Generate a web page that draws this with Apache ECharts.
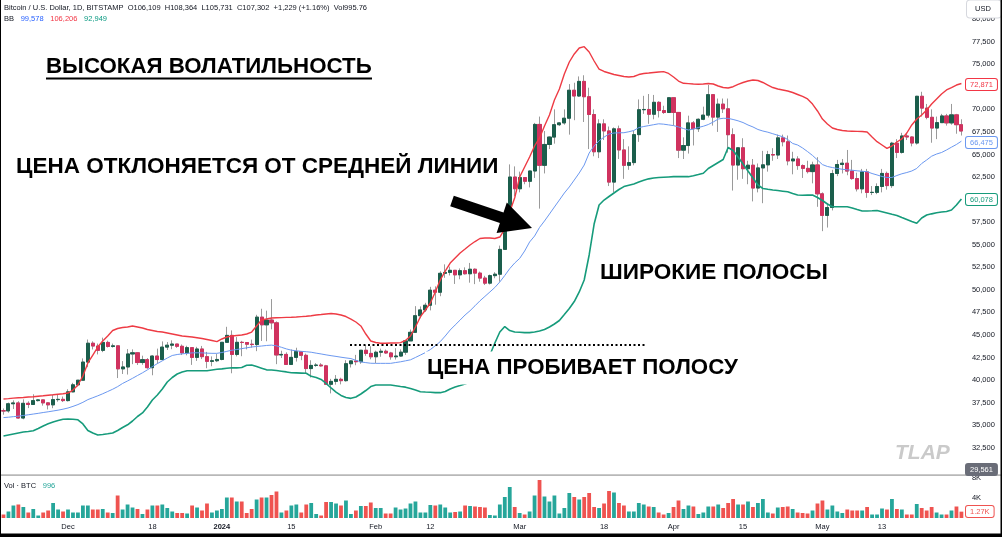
<!DOCTYPE html>
<html lang="ru">
<head>
<meta charset="UTF-8">
<title>BTC Bollinger</title>
<style>
  html, body { margin: 0; padding: 0; background: #fff; }
  #main { width: 1002px; height: 537px; }
</style>
</head>
<body>
<div id="main"></div>
<script src="https://cdn.jsdelivr.net/npm/echarts@6/dist/echarts.min.js"></script>
<script>
// daily candles, 2023-11-18 .. 2024-05-29
const open = [
  36590, 36580, 37370, 37460, 35790, 37420, 37290, 37720, 37800, 37470, 37250, 37830, 37860,
  37720, 38690, 39470, 39980, 41990, 44080, 43770, 43290, 44170, 43720, 43790, 41240, 41450, 42890, 43020, 41940, 42260, 41370, 42660, 42270, 43650, 43860, 43990, 43740, 43010, 43590, 42510, 43440, 42590, 42070, 42140,
  42280, 44180, 44950, 42840, 44180, 44160, 43970, 43930, 46970, 46120, 46650, 46340, 42780, 42840, 41730, 42510, 43150, 42740, 41270, 41620, 41660, 41570, 39530, 39850, 40080, 39930, 41810, 42120, 42030, 43300, 42950,
  42580, 43080, 43190, 43000, 42580, 42660, 43090, 44340, 45290, 47130, 47770, 48290, 49960, 49730, 51830, 51930, 52160, 51660, 52120, 51780, 52280, 51850, 51300, 50740, 51570, 51730, 54480, 57060, 62500,
  61200, 62440, 62030, 63170, 68330, 63800, 66110, 66930, 68300, 68500, 69020, 72120, 71480, 73100, 71400, 69430, 65300, 68390, 67610, 61940, 67840, 65500, 63800, 64100, 67200, 69960, 69990, 69460, 70780, 69870, 69650,
  71290, 69660, 65480, 65990, 68500, 67850, 68900, 69360, 71630, 69140, 70580, 70060, 67190, 63830, 65740, 63420, 63810, 61280, 63510, 63850, 64990, 64940, 66840, 66410, 64290, 64500, 63770, 63460, 63100, 63840,
  60640, 58250, 59120, 62890, 63890, 64030, 63160, 62330, 61190, 63070, 60790, 60800, 61450, 62900, 61550, 66250, 65230, 67050, 66940, 66270, 71450, 70140, 69120, 67930, 68530, 69270, 68500, 69390, 68300
];
const high = [
  36850, 37500, 37750, 37650, 37860, 37640, 38420, 37900, 37820, 37560, 38380, 38420, 38170,
  38980, 39690, 40000, 42400, 44490, 44290, 44040, 44700, 44360, 44040, 43810, 42100, 43430, 43400, 43090, 42700, 42430, 42740, 43480, 44280, 44210, 44400, 44000, 43940, 43800, 43600, 43680, 43780, 43120, 42620, 42880,
  44190, 45900, 45500, 44760, 44340, 44210, 44480, 47230, 47900, 47690, 48970, 46500, 43250, 43070, 43390, 43580, 43200, 42930, 42190, 41870, 41870, 41680, 40130, 40550, 40260, 42200, 42180, 42790, 43310, 43880, 43740,
  43260, 43480, 43380, 43120, 43530, 43400, 44370, 45600, 48190, 48160, 48560, 50330, 50380, 52050, 52820, 52570, 52200, 52370, 52490, 52980, 52370, 52020, 51550, 51690, 51950, 54900, 57550, 63900, 63680,
  63100, 62440, 63200, 68500, 69200, 67600, 67000, 70000, 68600, 70000, 72800, 72950, 73650, 73780, 72400, 70000, 68900, 68900, 68100, 68000, 68200, 66700, 65900, 67600, 71100, 71500, 71700, 71600, 70900, 70400, 71300,
  71300, 69700, 66900, 69300, 68700, 69000, 70300, 72700, 71700, 71200, 71200, 71200, 67900, 65800, 66800, 64300, 64500, 64000, 65400, 65400, 65700, 67200, 67200, 67100, 65300, 64800, 63900, 64300, 64200, 64700,
  60800, 59600, 63300, 64400, 64500, 65500, 64400, 62980, 63400, 63400, 61500, 61800, 63400, 63100, 66400, 66700, 67400, 67400, 67000, 71500, 71950, 70600, 70000, 69200, 69500, 69500, 70600, 69500, 68900
];
const low = [
  36160, 36380, 36790, 35720, 35650, 36890, 37250, 37620, 37160, 36740, 36880, 37600, 37560,
  37620, 38650, 39290, 39980, 41420, 43390, 42840, 43090, 43600, 43590, 40220, 40670, 40610, 41760, 41670, 41690, 41250, 40530, 41800, 42200, 43330, 43420, 43570, 42770, 42740, 41680, 42120, 42320, 41310, 41530, 41990,
  42190, 44170, 40750, 42620, 42640, 43400, 43590, 43200, 44330, 44300, 45620, 41760, 42440, 41710, 41700, 42050, 42200, 40670, 40280, 41470, 41490, 39450, 38520, 39490, 39520, 39820, 41390, 41640, 41800, 42690, 42300,
  41880, 42580, 42890, 42260, 42270, 42570, 42790, 44330, 45260, 46850, 47550, 47720, 48350, 49290, 51330, 51590, 50650, 51170, 51690, 50790, 50630, 50900, 50530, 50590, 51280, 50900, 54450, 56700, 60400,
  60800, 61700, 61350, 62400, 59000, 62900, 65600, 66200, 68150, 68300, 67200, 68800, 71370, 68600, 65600, 64800, 64600, 66600, 61500, 60800, 64500, 62300, 63300, 63800, 66400, 69500, 68400, 68900, 69100, 69500, 69600,
  68200, 64600, 64500, 65100, 66000, 67500, 68800, 69100, 68200, 67500, 69600, 65200, 61000, 62200, 62300, 61700, 59800, 60800, 59600, 63100, 64300, 64500, 65900, 63800, 62800, 63300, 62400, 62900, 61800, 59200,
  56500, 56900, 58800, 62600, 62900, 62700, 62200, 60900, 60700, 60200, 60500, 60600, 60800, 61100, 61300, 64600, 65100, 66600, 65900, 66100, 69200, 68900, 66300, 66700, 68500, 68200, 68300, 67300, 67100
];
const close = [
  36580, 37370, 37460, 35790, 37420, 37290, 37720, 37800, 37470, 37250, 37830, 37860, 37720,
  38690, 39470, 39980, 41990, 44080, 43770, 43290, 44170, 43720, 43790, 41240, 41450, 42890, 43020, 41940, 42260, 41370, 42660, 42270, 43650, 43860, 43990, 43740, 43010, 43590, 42510, 43440, 42590, 42070, 42140, 42280,
  44180, 44950, 42840, 44180, 44160, 43970, 43930, 46970, 46120, 46650, 46340, 42780, 42840, 41730, 42510, 43150, 42740, 41270, 41620, 41660, 41570, 39530, 39850, 40080, 39930, 41810, 42120, 42030, 43300, 42950, 42580,
  43080, 43190, 43000, 42580, 42660, 43090, 44340, 45290, 47130, 47770, 48290, 49960, 49730, 51830, 51930, 52160, 51660, 52120, 51780, 52280, 51850, 51300, 50740, 51570, 51730, 54480, 57060, 62500, 61200,
  62440, 62030, 63170, 68330, 63800, 66110, 66930, 68300, 68500, 69020, 72120, 71480, 73100, 71400, 69430, 65300, 68390, 67610, 61940, 67840, 65500, 63800, 64100, 67200, 69960, 69990, 69460, 70780, 69870, 69650, 71290,
  69660, 65480, 65990, 68500, 67850, 68900, 69360, 71630, 69140, 70580, 70060, 67190, 63830, 65740, 63420, 63810, 61280, 63510, 63850, 64990, 64940, 66840, 66410, 64290, 64500, 63770, 63460, 63100, 63840, 60640,
  58250, 59120, 62890, 63890, 64030, 63160, 62330, 61190, 63070, 60790, 60800, 61450, 62900, 61550, 66250, 65230, 67050, 66940, 66270, 71450, 70140, 69120, 67930, 68530, 69270, 68500, 69390, 68300, 67600
];
// volume, thousands of BTC
const volume = [
  0.7, 1.3, 2.5, 2.7, 2.2, 1.1, 1.8, 0.5, 1.1, 1.5, 3.0, 1.7, 1.3,
  1.7, 1.1, 1.1, 2.5, 2.5, 1.7, 1.7, 1.8, 1.1, 1.0, 4.5, 1.7, 2.7, 2.1, 1.8, 0.8, 1.7, 2.5, 2.5, 2.7, 2.0, 1.3, 1.0, 1.0, 0.9, 2.5, 2.1, 1.5, 2.9, 1.1, 1.5,
  1.8, 4.1, 4.1, 3.3, 3.3, 1.0, 1.8, 3.7, 4.1, 4.1, 4.6, 5.3, 1.1, 1.5, 2.5, 2.7, 1.1, 2.7, 3.0, 0.8, 0.5, 3.2, 3.2, 2.9, 2.5, 3.5, 0.8, 1.5, 2.4, 2.4, 3.1,
  2.0, 2.0, 0.9, 0.9, 2.1, 1.7, 1.9, 2.9, 3.3, 1.1, 1.1, 2.6, 2.5, 2.7, 2.1, 1.1, 1.2, 1.3, 2.5, 2.4, 2.3, 2.2, 2.1, 0.6, 0.5, 2.7, 4.2, 6.2, 2.2,
  1.0, 0.7, 1.3, 4.5, 7.6, 4.3, 3.3, 4.5, 0.9, 2.0, 5.0, 4.2, 3.7, 4.2, 5.0, 2.2, 2.0, 2.9, 5.4, 5.1, 3.0, 2.5, 1.3, 1.3, 3.0, 2.7, 2.3, 2.2, 1.1, 0.7, 1.0,
  2.2, 3.5, 1.8, 2.5, 2.3, 0.8, 1.1, 2.3, 2.3, 2.7, 2.0, 3.0, 3.8, 2.7, 2.7, 3.3, 2.2, 3.0, 3.8, 1.1, 0.9, 2.1, 2.2, 2.3, 1.8, 1.1, 1.0, 0.9, 1.5, 2.9,
  3.5, 1.7, 2.5, 1.3, 1.0, 1.7, 1.5, 1.5, 1.5, 2.2, 0.7, 0.7, 1.9, 1.7, 3.8, 1.8, 1.7, 0.7, 0.7, 2.8, 2.0, 1.5, 2.2, 1.1, 0.7, 0.7, 1.5, 2.3, 1.27
];
// Bollinger bands
const bbUpper = [
  37900, 37940, 37990, 38030, 38070, 38120, 38150, 38210, 38260, 38320, 38370, 38430, 38480,
  38560, 38890, 39450, 40450, 41890, 42770, 43660, 44330, 44880, 45490, 45710, 45820, 45880, 45990, 45880, 45770, 45600, 45490, 45380, 45320, 45210, 45100, 44990, 44880, 44830, 44770, 44690, 44600, 44490, 44380, 44250,
  44550, 44770, 44880, 44940, 44990, 45100, 45320, 45990, 46650, 46760, 46870, 46900, 46920, 46940, 46960, 46990, 47030, 47070, 47130, 47210, 47260, 47320, 47370, 47320, 47210, 47040, 46760, 46430, 45990, 45100, 44330,
  44160, 44070, 44080, 44100, 44100, 44150, 44380, 44880, 45880, 47020, 47760, 48540, 49760, 51090, 52080, 52970, 53530, 54080, 54520, 54970, 55350, 55690, 55740, 55740, 55690, 55850, 56740, 58620, 60200,
  62500, 63610, 64720, 65940, 66830, 68160, 69380, 71040, 72260, 73920, 75250, 76140, 76800, 76950, 76360, 75360, 74470, 74200, 74030, 73860, 73750, 73640, 73590, 73640, 73860, 73980, 74030, 74090, 74140, 74180, 73980,
  73590, 73140, 72890, 72850, 72810, 72780, 72810, 72870, 72810, 72590, 72420, 72370, 72510, 72760, 72980, 73140, 73260, 73200, 72980, 72700, 72420, 72260, 72150, 72040, 71870, 71650, 71430, 71150, 70590, 69820,
  68930, 68380, 67930, 67770, 67660, 67600, 67580, 67560, 67540, 67490, 66940, 66420, 66050, 65680, 65940, 66380, 66720, 67380, 68270, 68930, 69380, 69930, 70590, 71150, 71700, 72150, 72420, 72700, 72871
];
const bbMid = [
  35840, 35880, 35940, 35990, 36070, 36150, 36230, 36310, 36400, 36480, 36570, 36660, 36770,
  36900, 37080, 37280, 37530, 37830, 38040, 38250, 38480, 38730, 38980, 39270, 39620, 39900, 40190, 40500, 40800, 41130, 41490, 41820, 42130, 42440, 42720, 42830, 42900, 42950, 43010, 43020, 43010, 42980, 42960, 42960,
  43050, 43180, 43300, 43380, 43480, 43570, 43660, 43720, 43770, 43830, 43870, 43790, 43630, 43450, 43310, 43240, 43180, 43140, 43080, 42980, 42890, 42790, 42700, 42620, 42530, 42450, 42380, 42190, 42010, 41930, 41860,
  41850, 41850, 41850, 41850, 41940, 42020, 42130, 42240, 42500, 42770, 43040, 43380, 43800, 44260, 44880, 45550, 46100, 46650, 47210, 47680, 48230, 48780, 49270, 49760, 50260, 50870, 51590, 52350, 52970,
  53480, 54300, 55300, 55960, 56910, 57630, 58400, 59180, 59950, 60730, 61400, 62170, 62950, 63830, 65160, 65940, 66520, 66920, 67270, 67380, 67400, 67410, 67520, 67660, 67980, 68100, 68200, 68300, 68400, 68360, 68280,
  68200, 68050, 67880, 67710, 67820, 67990, 68130, 68320, 68600, 68930, 69010, 69000, 68880, 68730, 68540, 68270, 68050, 67770, 67600, 67470, 67300, 67130, 66960, 66660, 66220, 66050, 65720, 65320, 64890, 64390,
  63880, 63670, 63550, 63450, 63360, 63300, 63250, 63190, 63140, 63090, 62890, 62730, 62560, 62450, 62450, 62670, 62860, 63000, 63170, 63450, 64000, 64390, 64810, 65050, 65220, 65500, 65810, 66110, 66475
];
const bbLower = [
  33800, 33910, 34020, 34130, 34240, 34290, 34380, 34630, 34900, 35150, 35350, 35510, 35650,
  35680, 35650, 35590, 35130, 34410, 34130, 33910, 33960, 34040, 34130, 34410, 34740, 35040, 35460, 35960, 36350, 37010, 37790, 38340, 39010, 39780, 40280, 40670, 40890, 41030, 41030, 41030, 41030, 41030, 41110, 41190,
  41240, 41300, 41360, 41350, 41390, 41640, 41670, 41490, 41310, 41130, 41110, 41050, 40980, 40900, 40810, 40790, 40770, 40750, 40410, 40280, 40060, 39620, 39120, 38670, 38290, 38060, 37970, 38120, 38450, 38840, 39280,
  39450, 39450, 39450, 39450, 39370, 39280, 39210, 39060, 38890, 38710, 38670, 38640, 38610, 38600, 38730, 39010, 39230, 39390, 39560, 39780, 40220, 40890, 41670, 42770, 44100, 45320, 45930, 45490, 45320,
  45290, 45260, 45250, 45320, 45430, 45600, 45880, 46210, 46600, 47260, 47930, 48700, 49760, 51090, 53860, 57290, 59400, 59950, 60340, 60730, 61120, 61440, 61590, 61730, 61950, 62140, 62300, 62390, 62440, 62480, 62510,
  62540, 62540, 62540, 62540, 62640, 62770, 62920, 63450, 63780, 64110, 64440, 65770, 65440, 64720, 63940, 63170, 62390, 61620, 61230, 61140, 61060, 61000, 60930, 60860, 60670, 60510, 60480, 60500, 60510, 60230,
  59900, 59510, 59210, 59210, 59210, 59210, 59070, 58900, 58740, 58740, 58760, 58790, 58650, 58510, 58370, 58240, 58010, 57790, 57570, 57370, 57960, 58290, 58420, 58540, 58620, 58680, 58850, 59400, 60078
];
const tickLabels = {
  '2023-12-01': 'Dec', '2023-12-18': '18', '2024-01-01': '2024', '2024-01-15': '15',
  '2024-02-01': 'Feb', '2024-02-12': '12', '2024-03-01': 'Mar', '2024-03-18': '18',
  '2024-04-01': 'Apr', '2024-04-15': '15', '2024-05-01': 'May', '2024-05-13': '13'
};

const dates = [];
for (let d = new Date(Date.UTC(2023, 10, 18)); dates.length < close.length; d.setUTCDate(d.getUTCDate() + 1)) {
  dates.push(d.toISOString().slice(0, 10));
}

const UP = '#1b5e4c', DOWN = '#d0325f', WICK = '#9a9a9a';
const FONT = '"Liberation Sans", Arial, sans-serif';
const big = size => 'bold ' + size + 'px "Liberation Sans", Arial, sans-serif';

const wickData = dates.map((d, i) => [open[i], close[i], low[i], high[i]]);
const bodyData = dates.map((d, i) => [open[i], close[i], Math.min(open[i], close[i]), Math.max(open[i], close[i])]);
const volData = volume.map((v, i) => ({
  value: v,
  itemStyle: { color: close[i] >= open[i] ? '#26a69a' : '#ef5350' }
}));

const chart = echarts.init(document.getElementById('main'));

const tag = (text, y, color, bg) => ({
  type: 'text', x: 966, y: y, z: 120,
  style: {
    text: text, font: '7.5px ' + FONT, fill: bg ? '#fff' : color,
    backgroundColor: bg || '#fff', borderColor: color, borderWidth: 1, borderRadius: 2,
    padding: [2, 4, 1, 4], verticalAlign: 'middle'
  }
});

const option = {
  animation: false,
  backgroundColor: '#fff',
  grid: [
    { left: 1, right: 38.1, top: 19.14, height: 451.12, outerBoundsMode: 'none' },
    { left: 1, right: 38.1, top: 478, height: 40, outerBoundsMode: 'none' }
  ],
  xAxis: [
    {
      type: 'category', gridIndex: 0, data: dates, boundaryGap: true,
      axisLine: { show: false }, axisTick: { show: false }, axisLabel: { show: false }, splitLine: { show: false }
    },
    {
      type: 'category', gridIndex: 1, data: dates, boundaryGap: true,
      axisLine: { show: false }, axisTick: { show: false }, splitLine: { show: false },
      axisLabel: {
        interval: (i, v) => v in tickLabels,
        formatter: v => v === '2024-01-01' ? '{b|2024}' : tickLabels[v],
        margin: 5, fontSize: 7.5, color: '#131722', fontFamily: FONT,
        rich: { b: { fontWeight: 'bold', fontSize: 7.5, color: '#131722', fontFamily: FONT } }
      }
    }
  ],
  yAxis: [
    {
      type: 'value', gridIndex: 0, position: 'right', min: 30000, max: 80000, interval: 2500,
      splitLine: { show: false }, axisLine: { show: false }, axisTick: { show: false },
      axisLabel: { margin: 8, fontSize: 7.5, color: '#131722', fontFamily: FONT, formatter: v => v.toLocaleString('en-US') }
    },
    {
      type: 'value', gridIndex: 1, position: 'right', min: 0, max: 8, interval: 4,
      splitLine: { show: false }, axisLine: { show: false }, axisTick: { show: false },
      axisLabel: { margin: 8, fontSize: 7.5, color: '#131722', fontFamily: FONT, formatter: v => v ? v + 'K' : '' }
    }
  ],
  series: [
    {
      type: 'candlestick', xAxisIndex: 0, yAxisIndex: 0, data: wickData, barWidth: 3.6,
      itemStyle: { color: WICK, color0: WICK, borderColor: WICK, borderColor0: WICK, borderWidth: 1 }
    },
    {
      type: 'candlestick', xAxisIndex: 0, yAxisIndex: 0, data: bodyData, barWidth: 3.6,
      itemStyle: { color: UP, color0: DOWN, borderColor: UP, borderColor0: DOWN, borderWidth: 1 }
    },
    {
      type: 'line', xAxisIndex: 0, yAxisIndex: 0, data: bbMid, showSymbol: false, silent: true,
      lineStyle: { color: '#6b98f0', width: 1 }
    },
    {
      type: 'line', xAxisIndex: 0, yAxisIndex: 0, data: bbUpper, showSymbol: false, silent: true,
      lineStyle: { color: '#ee3b44', width: 1.4 }
    },
    {
      type: 'line', xAxisIndex: 0, yAxisIndex: 0, data: bbLower, showSymbol: false, silent: true,
      lineStyle: { color: '#169b7b', width: 1.6 }
    },
    {
      type: 'bar', xAxisIndex: 1, yAxisIndex: 1, data: volData, barWidth: 3.8
    }
  ],
  graphic: [
    // header
    {
      type: 'text', x: 4, y: 8, z: 120,
      style: { text: 'Bitcoin / U.S. Dollar, 1D, BITSTAMP  O106,109  H108,364  L105,731  C107,302  +1,229 (+1.16%)  Vol995.76',
        font: '7.5px ' + FONT, fill: '#131722', verticalAlign: 'middle' }
    },
    {
      type: 'text', x: 4, y: 18.5, z: 120,
      style: {
        text: '{t|BB}  {b|99,578}  {r|106,206}  {g|92,949}', verticalAlign: 'middle',
        rich: {
          t: { font: '7.5px ' + FONT, fill: '#131722' },
          b: { font: '7.5px ' + FONT, fill: '#2962ff' },
          r: { font: '7.5px ' + FONT, fill: '#f23645' },
          g: { font: '7.5px ' + FONT, fill: '#089981' }
        }
      }
    },
    {
      type: 'text', x: 4, y: 485.5, z: 120,
      style: {
        text: '{t|Vol · BTC}  {g|996}', verticalAlign: 'middle',
        rich: { t: { font: '7.5px ' + FONT, fill: '#131722' }, g: { font: '7.5px ' + FONT, fill: '#26a69a' } }
      }
    },
    // pane separator and frame
    { type: 'rect', z: 110, shape: { x: 0, y: 474.3, width: 1002, height: 1.8 }, style: { fill: '#b8b8b8' } },
    { type: 'rect', z: 130, shape: { x: 1000.5, y: 0, width: 1.5, height: 537 }, style: { fill: '#000' } },
    { type: 'rect', z: 130, shape: { x: 0, y: 533.4, width: 1002, height: 3.6 }, style: { fill: '#000' } },
    { type: 'rect', z: 130, shape: { x: 0, y: 0, width: 1, height: 537 }, style: { fill: '#000' } },
    // price scale tags
    {
      type: 'text', x: 967, y: 9, z: 120,
      style: { text: 'USD', font: '7.5px ' + FONT, fill: '#131722', backgroundColor: '#fff',
        borderColor: '#d6d8de', borderWidth: 1, borderRadius: 3, padding: [4.5, 10, 4.5, 8], verticalAlign: 'middle' }
    },
    tag('72,871', 84.5, '#f23645'),
    tag('66,475', 142.5, '#6b98f0'),
    tag('60,078', 199.5, '#169b7b'),
    tag('29,561', 469.5, '#6a6d78', '#6a6d78'),
    tag('1.27K', 511.5, '#ef5350'),
    // annotations
    {
      type: 'text', x: 46, y: 67, z: 120,
      style: { text: 'ВЫСОКАЯ ВОЛАТИЛЬНОСТЬ', font: big(22.3), fill: '#000', verticalAlign: 'middle' }
    },
    { type: 'line', z: 120, shape: { x1: 46, y1: 78.5, x2: 372, y2: 78.5 }, style: { stroke: '#000', lineWidth: 2 } },
    {
      type: 'text', x: 14, y: 167, z: 120,
      style: { text: 'ЦЕНА ОТКЛОНЯЕТСЯ ОТ СРЕДНЕЙ ЛИНИИ', font: big(22.5), fill: '#000', verticalAlign: 'middle',
        backgroundColor: '#fff', padding: [4, 2] }
    },
    {
      type: 'text', x: 598, y: 273, z: 120,
      style: { text: 'ШИРОКИЕ ПОЛОСЫ', font: big(22.6), fill: '#000', verticalAlign: 'middle',
        backgroundColor: '#fff', padding: [4, 2] }
    },
    {
      type: 'text', x: 425, y: 368, z: 120,
      style: { text: 'ЦЕНА ПРОБИВАЕТ ПОЛОСУ', font: big(22.3), fill: '#000', verticalAlign: 'middle',
        backgroundColor: '#fff', padding: [6, 2, 5, 2] }
    },
    {
      type: 'line', z: 121, shape: { x1: 350, y1: 345, x2: 646, y2: 345 },
      style: { stroke: '#000', lineWidth: 2, lineDash: [2, 2.5] }
    },
    {
      type: 'polygon', z: 121,
      shape: { points: [[453.8, 195.8], [503.5, 212.6], [506.8, 202.6], [532, 228], [496.6, 233], [499.9, 223.0], [450.2, 206.2]] },
      style: { fill: '#000' }
    },
    {
      type: 'text', x: 895, y: 453, z: 105,
      style: { text: 'TLAP', font: 'italic bold 21px ' + FONT, fill: '#cacaca', verticalAlign: 'middle' }
    }
  ]
};

chart.setOption(option);
</script>
</body>
</html>
